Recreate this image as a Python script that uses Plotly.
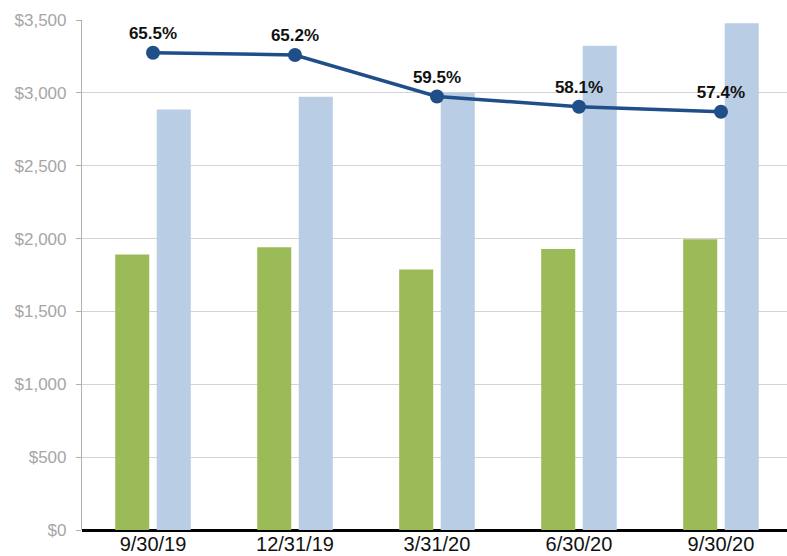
import plotly.graph_objects as go

# Quarter-end periods
periods = ["9/30/19", "12/31/19", "3/31/20", "6/30/20", "9/30/20"]

# Dollar series (bars)
green_values = [1890, 1940, 1788, 1928, 1995]
blue_values = [2885, 2974, 3002, 3324, 3477]

# Ratio series (line, secondary axis)
ratio_pct = [65.5, 65.2, 59.5, 58.1, 57.4]
ratio_labels = [f"{v:.1f}%" for v in ratio_pct]

y_ticks = list(range(0, 3501, 500))
y_ticktext = [f"${v:,}" for v in y_ticks]

fig = go.Figure()

fig.add_trace(go.Bar(
    x=periods, y=green_values, marker=dict(color="#9bbb59", line=dict(width=0)),
    showlegend=False, hoverinfo="skip",
))
fig.add_trace(go.Bar(
    x=periods, y=blue_values, marker=dict(color="#b9cde5", line=dict(width=0)),
    showlegend=False, hoverinfo="skip",
))
fig.add_trace(go.Scatter(
    x=periods, y=ratio_pct, yaxis="y2", mode="lines+markers+text",
    line=dict(color="#1f4e89", width=3.5),
    marker=dict(color="#1f4e89", size=14),
    text=ratio_labels, textposition="top center",
    textfont=dict(family="Arial, Liberation Sans, sans-serif", size=17, color="#111111"),
    texttemplate="<b>%{text}</b>",
    showlegend=False, hoverinfo="skip", cliponaxis=False,
))

fig.update_layout(
    width=787, height=556,
    margin=dict(l=82, r=0, t=20, b=26),
    paper_bgcolor="white", plot_bgcolor="white",
    barmode="group", bargap=0.415, bargroupgap=0.18,
    font=dict(family="Arial, Liberation Sans, sans-serif"),
    xaxis=dict(
        type="category", range=[-0.5, 4.465],
        showgrid=False, ticks="", showline=False,
        tickfont=dict(size=20, color="#111111"),
        ticklabelstandoff=0, automargin=False,
    ),
    yaxis=dict(
        range=[0, 3500], tickvals=y_ticks, ticktext=y_ticktext,
        showgrid=True, gridcolor="#d4d4d4", gridwidth=1.2,
        showline=True, linecolor="#b0b0b0", linewidth=1.2,
        ticks="outside", ticklen=5, tickcolor="#b0b0b0",
        tickfont=dict(size=17, color="#a6a6a6"),
        ticklabelstandoff=6, automargin=False,
        zeroline=True, zerolinecolor="#000000", zerolinewidth=2.5,
    ),
    yaxis2=dict(
        range=[0, 70], overlaying="y", side="right",
        visible=False, showgrid=False, zeroline=False,
    ),
)

fig.write_html("out.html")
